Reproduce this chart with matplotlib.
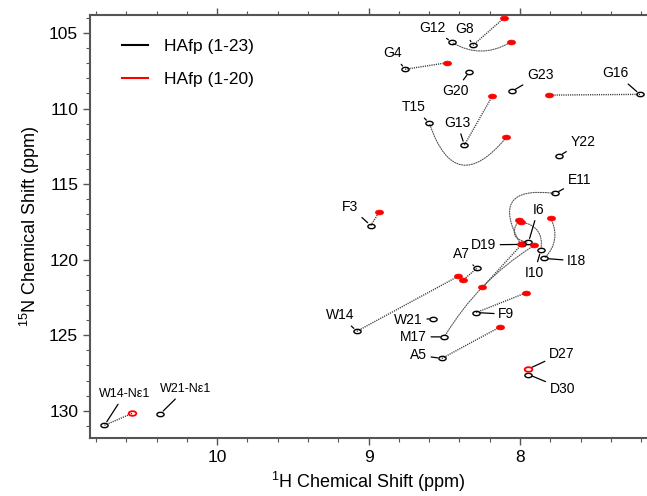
"""
HSQC overlay of HAfp (1-23) and HAfp (1-20)
"""

import matplotlib

matplotlib.use('Agg')
import matplotlib.pyplot as plt
from matplotlib.lines import Line2D
from matplotlib.path import Path
from matplotlib.transforms import Affine2D
from matplotlib.ticker import MultipleLocator

plt.rcParams['font.family'] = ['Liberation Sans', 'DejaVu Sans']
plt.rcParams['mathtext.default'] = 'regular'

# HAfp (1-23) peaks: name, 1H, 15N
black_names = ['G12', 'G8', 'G4', 'G20', 'G23', 'G16', 'T15', 'G13', 'Y22', 'E11', 'F3', 'I6', 'I10',
               'I18', 'D19', 'A7', 'W14', 'W21', 'F9', 'M17', 'A5', 'D30', 'W14-Nε1', 'W21-Nε1']
black_h = [8.451, 8.312, 8.759, 8.335, 8.055, 7.208, 8.599, 8.368, 7.745, 7.769, 8.986, 7.945, 7.863,
           7.840, 7.990, 8.286, 9.078, 8.572, 8.290, 8.500, 8.517, 7.945, 10.744, 10.376]
black_n = [105.62, 105.82, 107.40, 107.58, 108.86, 109.06, 110.96, 112.42, 113.15, 115.62, 117.74, 118.86, 119.37,
           119.92, 118.99, 120.58, 124.74, 123.90, 123.50, 125.11, 126.54, 127.60, 130.96, 130.21]

# HAfp (1-20) peaks
red_names = ['G8', 'G12', 'G4', 'G13', 'G16', 'T15', 'F3', 'I6', 'I10', 'I18', 'E11', 'M17', 'W14',
             'A7', 'D19', 'F9', 'A5', 'D27', 'W14-Nε1']
red_h = [8.104, 8.062, 8.484, 8.183, 7.809, 8.091, 8.931, 8.007, 7.996, 7.797, 7.996, 7.908, 8.407,
         8.378, 8.249, 7.962, 8.132, 7.949, 10.561]
red_n = [103.99, 105.60, 106.97, 109.17, 109.11, 111.91, 116.87, 117.38, 117.50, 117.27, 118.99, 119.06, 121.09,
         121.36, 121.84, 122.20, 124.45, 127.25, 130.17]
red_open = ['D27', 'W14-Nε1']

# dotted links between the two spectra: residue, curvature (0 = straight)
link_names = ['G8', 'G12', 'G4', 'G13', 'G16', 'T15', 'F3', 'I6', 'I10', 'I18', 'E11', 'M17', 'W14',
              'A7', 'D19', 'F9', 'A5', 'W14-Nε1']
link_rad = [0, 0.3, 0, 0, 0, 0.9, 0, -0.8, 0.5, 0.35, 1.0, -0.12, 0,
            0, 0, 0, 0, 0]

# labels: name, text position (1H, 15N), which spectrum the leader points at
label_names = ['G12', 'G8', 'G4', 'G20', 'G23', 'G16', 'T15', 'G13', 'Y22', 'E11', 'I6', 'F3', 'D19',
               'A7', 'I10', 'I18', 'W14', 'W21', 'F9', 'M17', 'A5', 'D27', 'D30', 'W14-Nε1', 'W21-Nε1']
label_h = [8.576, 8.368, 8.840, 8.429, 7.868, 7.368, 8.704, 8.414, 7.586, 7.609, 7.881, 9.122, 8.242,
           8.389, 7.905, 7.626, 9.188, 8.737, 8.091, 8.704, 8.671, 7.725, 7.721, 10.612, 10.211]
label_n = [104.65, 104.76, 106.35, 108.82, 107.78, 107.67, 109.92, 110.94, 112.20, 114.74, 116.68, 116.50, 119.02,
           119.64, 120.87, 120.08, 123.68, 124.01, 123.61, 125.11, 126.32, 126.21, 128.53, 128.91, 128.58]
label_on_red = ['D27']

ellipse = Path.unit_circle().transformed(Affine2D().scale(1.0, 0.6))
link_style = dict(color='#333333', lw=1.0, linestyle=(0, (0.8, 0.8)))
curve_style = dict(color='#555555', lw=0.8, linestyle=(0, (1, 1.2)))

fig = plt.figure(figsize=(6.47, 4.96), dpi=100)
ax = fig.add_axes([0.139, 0.117, 0.861, 0.853])

black = dict(zip(black_names, zip(black_h, black_n)))
red = dict(zip(red_names, zip(red_h, red_n)))

# links first so the peaks sit on top
for name, rad in zip(link_names, link_rad):
    (bh, bn), (rh, rn) = black[name], red[name]
    if rad == 0:
        ax.plot([bh, rh], [bn, rn], zorder=2, **link_style)
    else:
        ax.annotate('', xy=(rh, rn), xytext=(bh, bn),
                    arrowprops=dict(arrowstyle='-', connectionstyle=f'arc3,rad={rad}',
                                    shrinkA=1, shrinkB=1, **curve_style))

ax.plot(black_h, black_n, linestyle='none', marker=ellipse, ms=5.2, mfc='none', mec='black', mew=1.0, zorder=3)
for name, h, n in zip(red_names, red_h, red_n):
    if name in red_open:
        ax.plot(h, n, linestyle='none', marker=ellipse, ms=5.5, mfc='none', mec='red', mew=1.3, zorder=4)
    else:
        ax.plot(h, n, linestyle='none', marker=ellipse, ms=5.8, mfc='red', mec='red', mew=0.5, zorder=4)

for name, th, tn in zip(label_names, label_h, label_n):
    target = red[name] if name in label_on_red else black[name]
    fs = 9 if 'ε' in name else 10
    ax.annotate(name, xy=target, xytext=(th, tn), ha='center', va='center', fontsize=fs,
                arrowprops=dict(arrowstyle='-', color='black', lw=0.9, shrinkA=1, shrinkB=3))

ax.set_xlim(10.84, 7.162)
ax.set_ylim(131.8, 103.8)
ax.xaxis.set_major_locator(MultipleLocator(1))
ax.xaxis.set_minor_locator(MultipleLocator(0.2))
ax.yaxis.set_major_locator(MultipleLocator(5))
ax.yaxis.set_minor_locator(MultipleLocator(1))

for side in ['left', 'bottom', 'top']:
    ax.spines[side].set_color('#555555')
    ax.spines[side].set_linewidth(1.5)
ax.spines['right'].set_visible(False)
ax.tick_params(which='both', top=True, right=False, colors='#555555', labelcolor='black', labelsize=12.5)
ax.tick_params(which='major', length=5, width=1)
ax.tick_params(which='minor', length=3, width=0.8)

ax.set_xlabel(r'$^{1}$H Chemical Shift (ppm)', fontsize=13, labelpad=4)
ax.set_ylabel(r'$^{15}$N Chemical Shift (ppm)', fontsize=13, labelpad=5)

handles = [Line2D([], [], color='black', lw=1.5), Line2D([], [], color='red', lw=1.5)]
ax.legend(handles, ['HAfp (1-23)', 'HAfp (1-20)'], loc='upper left', bbox_to_anchor=(0.03, 0.98),
          frameon=False, fontsize=12.5, handlelength=1.5, handletextpad=0.9, labelspacing=1.0)

fig.savefig('out.png', dpi=100)
